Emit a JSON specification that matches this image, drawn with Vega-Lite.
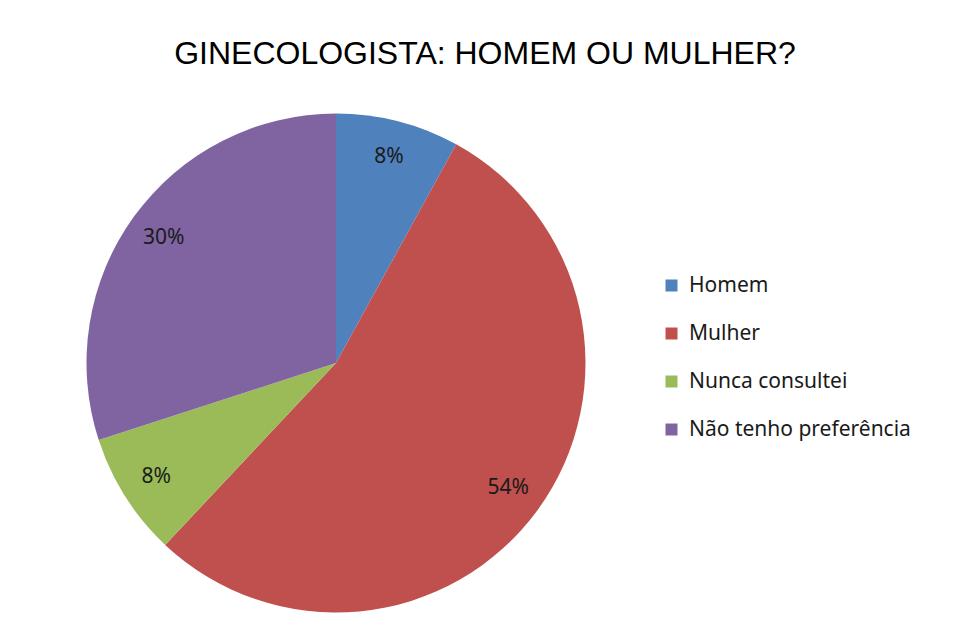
{
  "$schema": "https://vega.github.io/schema/vega-lite/v6.json",
  "autosize": {"type": "none"},
  "width": 500,
  "height": 500,
  "padding": {"left": 86, "top": 113, "right": 371, "bottom": 26},
  "background": "white",
  "config": {"view": {"stroke": null}},
  "title": {
    "text": "GINECOLOGISTA:  HOMEM OU MULHER?",
    "font": "Liberation Sans",
    "fontSize": 32,
    "fontWeight": "normal",
    "color": "#000000",
    "anchor": "middle",
    "dx": 149,
    "offset": 42
  },
  "data": {
    "values": [
      {"categoria": "Homem", "percentual": 8, "ordem": 1, "rotulo": "8%"},
      {"categoria": "Mulher", "percentual": 54, "ordem": 2, "rotulo": "54%"},
      {"categoria": "Nunca consultei", "percentual": 8, "ordem": 3, "rotulo": "8%"},
      {"categoria": "Não tenho preferência", "percentual": 30, "ordem": 4, "rotulo": "30%"}
    ]
  },
  "encoding": {
    "theta": {"field": "percentual", "type": "quantitative", "stack": true},
    "order": {"field": "ordem", "type": "quantitative"},
    "color": {
      "field": "categoria",
      "type": "nominal",
      "scale": {
        "domain": ["Homem", "Mulher", "Nunca consultei", "Não tenho preferência"],
        "range": ["#4F81BD", "#C0504D", "#9BBB59", "#8064A2"]
      },
      "legend": {
        "title": null,
        "orient": "none",
        "legendX": 575,
        "legendY": 162,
        "symbolType": "square",
        "symbolSize": 144,
        "symbolStrokeWidth": 0,
        "symbolOpacity": 1,
        "labelFont": "Noto Sans",
        "labelFontSize": 21,
        "labelLimit": 400,
        "labelColor": "#1a1a1a",
        "labelOffset": 7,
        "rowPadding": 26,
        "padding": 0
      }
    }
  },
  "layer": [
    {"mark": {"type": "arc", "outerRadius": 249.5, "stroke": null}},
    {
      "mark": {"type": "text", "radius": 213, "font": "Noto Sans", "fontSize": 21, "color": "#1a1a1a"},
      "encoding": {"text": {"field": "rotulo", "type": "nominal"}, "color": {"value": "#1a1a1a"}}
    }
  ]
}
